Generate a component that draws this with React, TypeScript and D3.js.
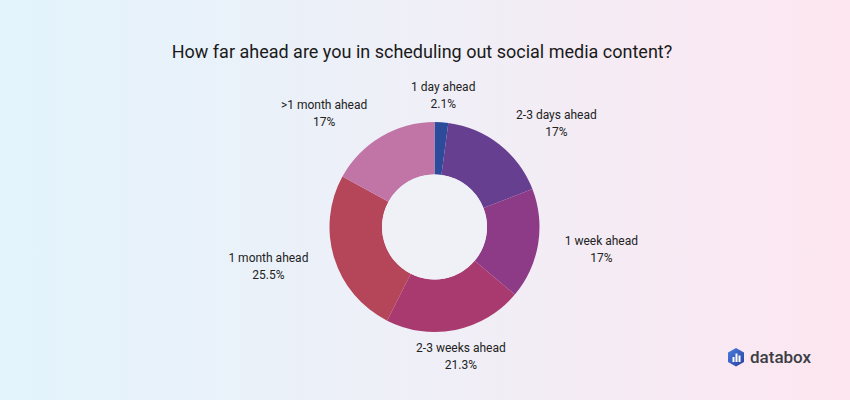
import React from "react";
import * as d3 from "d3";

const categories = ["1 day ahead", "2-3 days ahead", "1 week ahead", "2-3 weeks ahead", "1 month ahead", ">1 month ahead"];
const values = [2.1, 17, 17, 21.3, 25.5, 17];
const valueLabels = ["2.1%", "17%", "17%", "21.3%", "25.5%", "17%"];
const colors = ["#2d4b9b", "#673f91", "#8d3a87", "#a93a6f", "#b5465a", "#c075a6"];
const title = "How far ahead are you in scheduling out social media content?";

const W = 850, H = 400;
const cx = 434.5, cy = 227, R = 105, r = 52.5, labelR = 132;
const font = "Roboto, 'Noto Sans', sans-serif";

let ctx: CanvasRenderingContext2D | null = null;
function measure(t: string, size: number) {
  if (!ctx) ctx = document.createElement("canvas").getContext("2d");
  if (!ctx) return t.length * size * 0.5;
  ctx.font = `${size}px Roboto`;
  return ctx.measureText(t).width;
}

export default function App() {
  const pie = d3.pie<number>().value((d) => d).sort(null)(values);
  const arc = d3.arc<d3.PieArcDatum<number>>().innerRadius(r).outerRadius(R);
  return (
    <svg width={W} height={H} style={{ position: "absolute", left: 0, top: 0, display: "block" }}>
      <defs>
        <linearGradient id="bg" x1="0" y1="0" x2="1" y2="0">
          <stop offset="0" stopColor="#e3f4fc" />
          <stop offset="0.5" stopColor="#efeff7" />
          <stop offset="1" stopColor="#fde6f0" />
        </linearGradient>
        <linearGradient id="logo" x1="0" y1="0" x2="1" y2="1">
          <stop offset="0" stopColor="#4a80e0" />
          <stop offset="1" stopColor="#2a3f9e" />
        </linearGradient>
      </defs>
      <rect width={W} height={H} fill="url(#bg)" />
      <text x={422} y={58} textAnchor="middle" fontFamily={font} fontSize={18} fill="#1a1a1a">{title}</text>
      <g transform={`translate(${cx},${cy})`}>
        {pie.map((p, i) => (
          <path key={i} d={arc(p) || ""} fill={colors[i]} />
        ))}
        <circle r={r} fill="#f0f0f7" />
        {pie.map((p, i) => {
          const a = (p.startAngle + p.endAngle) / 2;
          const s = Math.sin(a), c = Math.cos(a);
          const x0 = s * labelR, y = -c * labelR;
          const w = Math.max(measure(categories[i], 12), measure(valueLabels[i], 12));
          const x = Math.abs(s) < 0.3 ? x0 : s > 0 ? x0 + w / 2 : x0 - w / 2;
          return (
            <text key={"l" + i} x={x} y={y} textAnchor="middle" fontFamily={font} fontSize={12} fill="#222">
              <tspan x={x} dy={-4}>{categories[i]}</tspan>
              <tspan x={x} dy={17}>{valueLabels[i]}</tspan>
            </text>
          );
        })}
      </g>
      <g transform="translate(727,348)">
        <path d="M9,0 L17,4.5 L17,14 L9,18.5 L1,14 L1,4.5 Z" fill="url(#logo)" />
        <rect x={5.5} y={9} width={2} height={5} fill="#fff" />
        <rect x={8.5} y={5.5} width={2} height={8.5} fill="#fff" />
        <rect x={11.5} y={7.5} width={2} height={6.5} fill="#fff" />
        <text x={23} y={15} fontFamily={font} fontSize={17} fontWeight={500} fill="#3a3d44">databox</text>
      </g>
    </svg>
  );
}
